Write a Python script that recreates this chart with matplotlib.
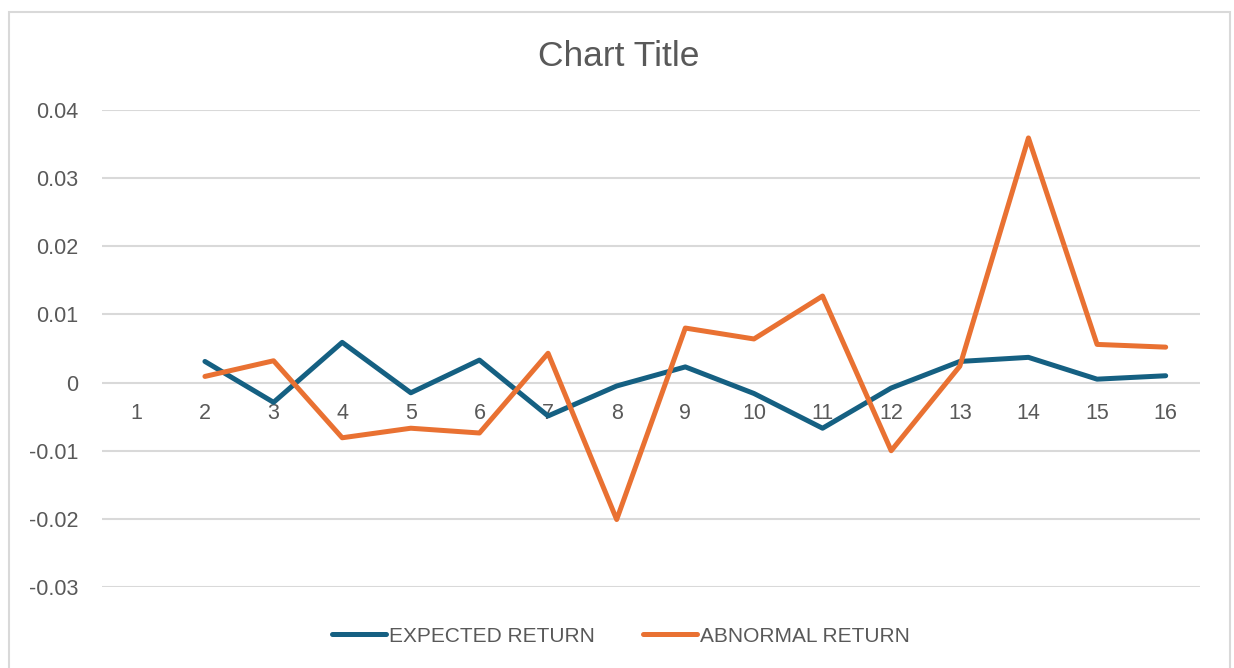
import numpy as np
import matplotlib
matplotlib.use("Agg")
import matplotlib.pyplot as plt
from matplotlib.patches import Rectangle

categories = list(range(1, 17))
expected_return = [np.nan, 0.0031, -0.0029, 0.0059, -0.0015, 0.0033, -0.0049, -0.0005,
                   0.0023, -0.0016, -0.0067, -0.0008, 0.0031, 0.0037, 0.0005, 0.0010]
abnormal_return = [np.nan, 0.0009, 0.0032, -0.0081, -0.0067, -0.0074, 0.0043, -0.0201,
                   0.0080, 0.0064, 0.0127, -0.0100, 0.0024, 0.0359, 0.0056, 0.0052]
y_ticks = [-0.03, -0.02, -0.01, 0, 0.01, 0.02, 0.03, 0.04]
y_tick_labels = ["-0.03", "-0.02", "-0.01", "0", "0.01", "0.02", "0.03", "0.04"]

plt.rcParams['font.family'] = ['Liberation Sans', 'DejaVu Sans']
TXT = '#595959'
GRID = '#D9D9D9'

W, H = 1234, 668
fig = plt.figure(figsize=(W / 100, H / 100), dpi=100)

# outer chart border
fig.patches.append(Rectangle((9 / W, -0.05), (1230 - 9) / W, (H - 12) / H + 0.05,
                             transform=fig.transFigure, fill=False,
                             edgecolor=GRID, linewidth=1.5))

left, right, top, bottom = 102, 1200, 110, 587
ax = fig.add_axes([left / W, (H - bottom) / H, (right - left) / W, (bottom - top) / H])

ax.plot(categories, expected_return, color='#156082', linewidth=3.6,
        solid_capstyle='round', solid_joinstyle='round', label='EXPECTED RETURN', zorder=3)
ax.plot(categories, abnormal_return, color='#E97132', linewidth=3.6,
        solid_capstyle='round', solid_joinstyle='round', label='ABNORMAL RETURN', zorder=4)

ax.set_xlim(0.5, 16.5)
ax.set_ylim(-0.03, 0.04)
ax.set_yticks(y_ticks)
ax.set_yticklabels(y_tick_labels)
ax.set_xticks(categories)
ax.set_xticklabels([str(c) for c in categories])

ax.grid(axis='y', color=GRID, linewidth=1.5)
ax.set_axisbelow(True)
for s in ['top', 'right', 'left']:
    ax.spines[s].set_visible(False)
ax.spines['bottom'].set_position(('data', 0))
ax.spines['bottom'].set_visible(False)

ax.tick_params(axis='x', length=0, pad=14.5, labelsize=15.5, labelcolor=TXT)
ax.tick_params(axis='y', length=0, pad=17, labelsize=15.5, labelcolor=TXT)

fig.text(619 / W, (H - 56) / H, 'Chart Title', ha='center', va='center',
         fontsize=25.5, color=TXT)

leg = fig.legend(loc='center', bbox_to_anchor=(621 / W, (H - 636) / H), ncol=2,
                 frameon=False, fontsize=15, handlelength=2.6, handletextpad=0.15,
                 columnspacing=2.3)
for t in leg.get_texts():
    t.set_color(TXT)

fig.savefig('out.png', dpi=100)
